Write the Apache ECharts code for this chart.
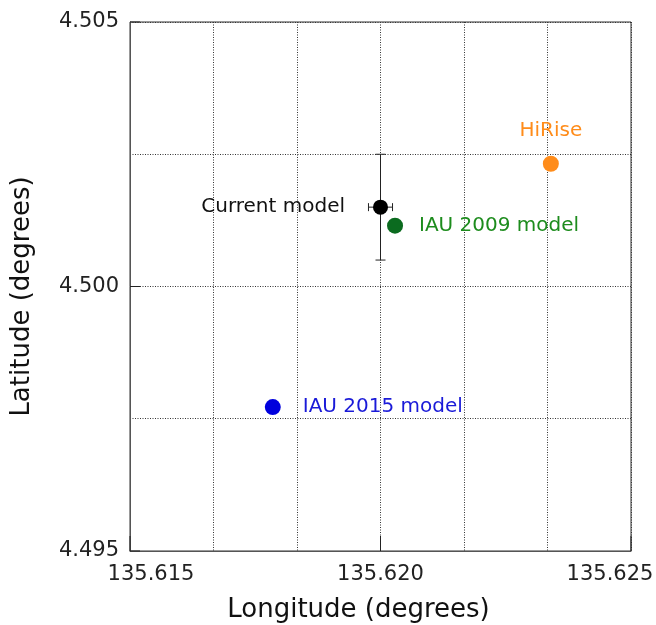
<!DOCTYPE html>
<html>
<head>
<meta charset="utf-8">
<script src="https://cdn.jsdelivr.net/npm/echarts@6/dist/echarts.min.js"></script>
<style>
  html, body { margin: 0; padding: 0; background: #fff; }
  #main { width: 656px; height: 625px; }
</style>
</head>
<body>
<div id="main"></div>
<script>
// 各模型位置 (经度, 纬度)
var modelNames = ['Current model', 'IAU 2009 model', 'HiRise', 'IAU 2015 model'];
var longitudes = [135.62000, 135.62029, 135.62340, 135.61785];
var latitudes = [4.50150, 4.50115, 4.50232, 4.49772];
// 误差棒 (只有 Current model)
var lonErr = [0.00024, 0, 0, 0];
var latErr = [0.00100, 0, 0, 0];
// 坐标轴刻度
var xTicks = [135.615, 135.620, 135.625];
var yTicks = [4.495, 4.500, 4.505];

var FONT = 'DejaVu Sans';
var colors = ['#000000', '#0b6b1f', '#ff8c1a', '#0000dd'];
var labelColors = ['#111111', '#1d8c1d', '#ff8c1a', '#1a1ad8'];
var labelPos = ['left', 'right', 'top', 'right'];
var labelDist = [28, 16, 15, 22];
var symbolSizes = [15, 16, 16, 16];

var myChart = echarts.init(document.getElementById('main'));

var dottedLine = { color: '#333', width: 1, type: [1, 1.5] };

function lineEl(x1, y1, x2, y2, color) {
  return { type: 'line', shape: { x1: x1, y1: y1, x2: x2, y2: y2 }, style: { stroke: color, lineWidth: 1 } };
}

var series = modelNames.map(function (name, i) {
  return {
    name: name,
    type: 'scatter',
    z: 5,
    symbolSize: symbolSizes[i],
    itemStyle: { color: colors[i], opacity: 1 },
    label: {
      show: true,
      formatter: name,
      position: labelPos[i],
      distance: labelDist[i],
      color: labelColors[i],
      opacity: 1,
      fontFamily: FONT,
      fontSize: 20
    },
    data: [[longitudes[i], latitudes[i]]]
  };
});

// 误差棒
series.push({
  type: 'custom',
  z: 3,
  data: longitudes.map(function (x, i) {
    return [x, latitudes[i], lonErr[i], latErr[i]];
  }).filter(function (d) { return d[2] > 0 || d[3] > 0; }),
  renderItem: function (params, api) {
    var x = api.value(0), y = api.value(1), ex = api.value(2), ey = api.value(3);
    var l = api.coord([x - ex, y]), r = api.coord([x + ex, y]);
    var t = api.coord([x, y + ey]), b = api.coord([x, y - ey]);
    var c = '#222';
    return {
      type: 'group',
      children: [
        lineEl(l[0], l[1], r[0], r[1], c), lineEl(l[0], l[1] - 4, l[0], l[1] + 4, c), lineEl(r[0], r[1] - 4, r[0], r[1] + 4, c),
        lineEl(t[0], t[1], b[0], b[1], c), lineEl(t[0] - 5, t[1], t[0] + 5, t[1], c), lineEl(b[0] - 5, b[1], b[0] + 5, b[1], c)
      ]
    };
  }
});

// 刻度线 (朝内)
series.push({
  type: 'custom',
  z: 4,
  silent: true,
  data: xTicks.map(function (v) { return [v, yTicks[0]]; }),
  renderItem: function (params, api) {
    var p = api.coord([api.value(0), api.value(1)]);
    return lineEl(p[0], p[1], p[0], p[1] - 15, '#222');
  }
});
series.push({
  type: 'custom',
  z: 4,
  silent: true,
  data: yTicks.map(function (v) { return [xTicks[0], v]; }),
  renderItem: function (params, api) {
    var p = api.coord([api.value(0), api.value(1)]);
    return lineEl(p[0], p[1], p[0] + 10, p[1], '#222');
  }
});

var option = {
  animation: false,
  backgroundColor: '#fff',
  grid: {
    left: 130, right: 25, top: 22, bottom: 74,
    containLabel: false,
    outerBoundsMode: 'none',
    show: true, borderColor: '#333', borderWidth: 1, backgroundColor: 'transparent'
  },
  xAxis: {
    type: 'value',
    min: xTicks[0], max: xTicks[xTicks.length - 1],
    interval: xTicks[1] - xTicks[0],
    name: 'Longitude (degrees)',
    nameLocation: 'middle',
    nameGap: 46,
    nameTextStyle: { fontFamily: FONT, fontSize: 26, color: '#111', padding: [0, 44, 0, 0] },
    axisLine: { show: true, lineStyle: { color: '#555' } },
    axisTick: { show: false },
    axisLabel: {
      margin: 13, fontFamily: FONT, fontSize: 21, color: '#222',
      formatter: function (v) {
        var s = v.toFixed(3);
        if (Math.abs(v - xTicks[0]) < 1e-9) return '{l|' + s + '}';
        if (Math.abs(v - xTicks[xTicks.length - 1]) < 1e-9) return '{r|' + s + '}';
        return s;
      },
      rich: {
        l: { fontFamily: FONT, fontSize: 21, color: '#222', padding: [0, 0, 0, 42] },
        r: { fontFamily: FONT, fontSize: 21, color: '#222', padding: [0, 42, 0, 0] }
      }
    },
    splitLine: { show: true, lineStyle: dottedLine },
    minorTick: { show: false, splitNumber: 3 },
    minorSplitLine: { show: true, lineStyle: dottedLine }
  },
  yAxis: {
    type: 'value',
    min: yTicks[0], max: yTicks[yTicks.length - 1],
    interval: yTicks[1] - yTicks[0],
    name: 'Latitude (degrees)',
    nameLocation: 'middle',
    nameGap: 95,
    nameTextStyle: { fontFamily: FONT, fontSize: 26, color: '#111', padding: [0, 20, 0, 0] },
    axisLine: { show: true, lineStyle: { color: '#555' } },
    axisTick: { show: false },
    axisLabel: {
      margin: 11, fontFamily: FONT, fontSize: 21, color: '#222',
      formatter: function (v) { return v.toFixed(3); }
    },
    splitLine: { show: true, lineStyle: dottedLine },
    minorTick: { show: false, splitNumber: 2 },
    minorSplitLine: { show: true, lineStyle: dottedLine }
  },
  series: series
};

myChart.setOption(option);
window.addEventListener('resize', function () {
  myChart.resize();
});
</script>
</body>
</html>
